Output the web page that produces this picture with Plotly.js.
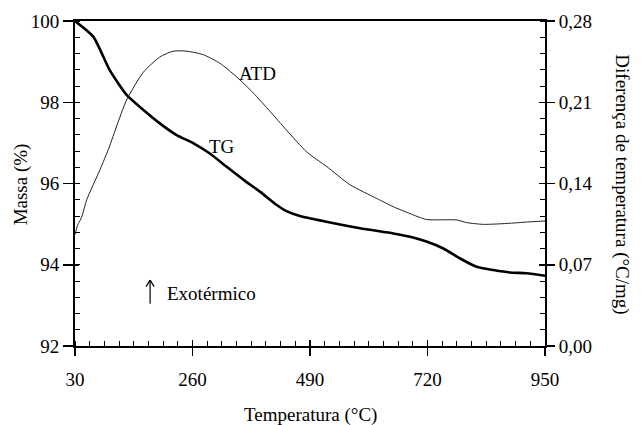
<!DOCTYPE html>
<html>
<head>
<meta charset="utf-8">
<script src="https://cdn.plot.ly/plotly-3.0.1.min.js"></script>
<style>html,body{margin:0;padding:0;background:#fff;}#chart{width:641px;height:425px;}</style>
</head>
<body>
<div id="chart"></div>
<script>
// TG curve: temperature (°C) vs mass (%)
const tgTemp = [30, 66, 98, 131, 164, 196, 229, 262, 294, 327, 360, 392, 425, 444, 470, 522, 588, 653, 686, 718, 751, 783, 816, 849, 881, 914, 950];
const tgMass = [100, 99.61, 98.79, 98.18, 97.81, 97.48, 97.19, 96.99, 96.74, 96.41, 96.09, 95.80, 95.47, 95.32, 95.20, 95.06, 94.90, 94.77, 94.69, 94.57, 94.40, 94.16, 93.95, 93.87, 93.81, 93.79, 93.73];
// ATD curve: temperature (°C) vs temperature difference (°C/mg)
const atdTemp = [30, 35, 43, 53, 79, 95, 131, 164, 196, 222, 249, 281, 314, 346, 379, 412, 444, 484, 523, 568, 621, 653, 686, 718, 777, 797, 829, 881, 914, 950];
const atdVal = [0.096, 0.104, 0.111, 0.126, 0.152, 0.169, 0.212, 0.236, 0.249, 0.254, 0.254, 0.251, 0.2435, 0.232, 0.218, 0.202, 0.186, 0.167, 0.1545, 0.139, 0.127, 0.120, 0.114, 0.109, 0.1086, 0.1063, 0.1048, 0.1057, 0.1068, 0.1077];
// tick labels
const xTicks = [30, 260, 490, 720, 950];
const yTicks = [92, 94, 96, 98, 100];
const y2Ticks = [0, 0.07, 0.14, 0.21, 0.28];

const font = {family: 'Liberation Serif', size: 19, color: '#000'};

const traces = [
  {x: atdTemp, y: atdVal, yaxis: 'y2', mode: 'lines', line: {color: '#222', width: 1, shape: 'spline', smoothing: 0.6}, hoverinfo: 'skip', showlegend: false},
  {x: tgTemp, y: tgMass, mode: 'lines', line: {color: '#000', width: 2.6, shape: 'spline', smoothing: 0.6}, hoverinfo: 'skip', showlegend: false},
  {x: [], y: [], xaxis: 'x2', yaxis: 'y3', mode: 'lines', showlegend: false, hoverinfo: 'skip'},
  {x: [], y: [], xaxis: 'x2', yaxis: 'y4', mode: 'lines', showlegend: false, hoverinfo: 'skip'}
];

const layout = {
  width: 641, height: 425,
  margin: {l: 75, r: 96, t: 21, b: 79},
  paper_bgcolor: '#fff', plot_bgcolor: '#fff',
  separators: ',.',
  font: font,
  showlegend: false,
  xaxis: {
    range: [30, 950], tickvals: xTicks, ticks: 'outside', ticklen: 8, tickwidth: 1.5, tickcolor: '#000',
    showline: true, linewidth: 2, linecolor: '#000', mirror: true, showgrid: false, zeroline: false,
    ticklabelstandoff: 7, tickfont: font,
    minor: {tick0: 30, dtick: 28.75, ticks: 'inside', ticklen: 5, tickwidth: 1, tickcolor: '#000', showgrid: false}
  },
  yaxis: {
    range: [92, 100], tickvals: yTicks, ticks: 'outside', ticklen: 10, tickwidth: 1.5, tickcolor: '#000',
    showline: true, linewidth: 2, linecolor: '#000', mirror: true, showgrid: false, zeroline: false,
    tickfont: font,
    minor: {tick0: 92, dtick: 0.4, ticks: 'inside', ticklen: 5, tickwidth: 1, tickcolor: '#000', showgrid: false}
  },
  yaxis2: {
    overlaying: 'y', side: 'right', range: [0, 0.28], tickvals: y2Ticks, tickformat: '.2f',
    ticks: 'outside', ticklen: 8, tickwidth: 1.5, tickcolor: '#000',
    showline: true, linewidth: 2, linecolor: '#000', showgrid: false, zeroline: false,
    tickfont: font,
    minor: {tick0: 0, dtick: 0.014, ticks: 'inside', ticklen: 5, tickwidth: 1, tickcolor: '#000', showgrid: false}
  },
  xaxis2: {
    overlaying: 'x', anchor: 'y3', range: [30, 950], tickvals: xTicks, ticks: 'inside', ticklen: 6, tickwidth: 1.5,
    tickcolor: '#000', showticklabels: false, showline: false, showgrid: false, zeroline: false
  },
  yaxis3: {
    overlaying: 'y', range: [92, 100], tickvals: yTicks, ticks: 'inside', ticklen: 4, tickwidth: 1.5,
    tickcolor: '#000', showticklabels: false, showline: false, showgrid: false, zeroline: false
  },
  yaxis4: {
    overlaying: 'y', side: 'right', range: [0, 0.28], tickvals: y2Ticks, ticks: 'inside', ticklen: 6, tickwidth: 1.5,
    tickcolor: '#000', showticklabels: false, showline: false, showgrid: false, zeroline: false
  },
  annotations: [
    {text: 'ATD', x: 388, y: 98.72, xref: 'x', yref: 'y', xanchor: 'center', yanchor: 'middle', showarrow: false, font: font},
    {text: 'TG', x: 318, y: 96.9, xref: 'x', yref: 'y', xanchor: 'center', yanchor: 'middle', showarrow: false, font: font},
    {text: '', x: 177, y: 93.62, xref: 'x', yref: 'y', showarrow: true, ax: 0, ay: 25, axref: 'pixel', ayref: 'pixel', arrowhead: 0, arrowwidth: 1.2, arrowcolor: '#000'},
    {text: '', x: 177, y: 93.62, xref: 'x', yref: 'y', showarrow: true, ax: -5, ay: 8, arrowhead: 0, arrowwidth: 1.2, arrowcolor: '#000', standoff: 0, startstandoff: 0},
    {text: '', x: 177, y: 93.62, xref: 'x', yref: 'y', showarrow: true, ax: 5, ay: 8, arrowhead: 0, arrowwidth: 1.2, arrowcolor: '#000', standoff: 0, startstandoff: 0},
    {text: 'Exotérmico', x: 297, y: 93.30, xref: 'x', yref: 'y', xanchor: 'center', yanchor: 'middle', showarrow: false, font: font},
    {text: 'Massa (%)', textangle: -90, x: -0.113, y: 0.497, xref: 'paper', yref: 'paper', xanchor: 'center', yanchor: 'middle', showarrow: false, font: font},
    {text: 'Diferença de temperatura (°C/mg)', textangle: 90, x: 1.162, y: 0.497, xref: 'paper', yref: 'paper', xanchor: 'center', yanchor: 'middle', showarrow: false, font: font},
    {text: 'Temperatura (°C)', x: 0.502, y: -0.212, xref: 'paper', yref: 'paper', xanchor: 'center', yanchor: 'middle', showarrow: false, font: font}
  ]
};

Plotly.newPlot('chart', traces, layout, {staticPlot: true, displayModeBar: false});
</script>
</body>
</html>
